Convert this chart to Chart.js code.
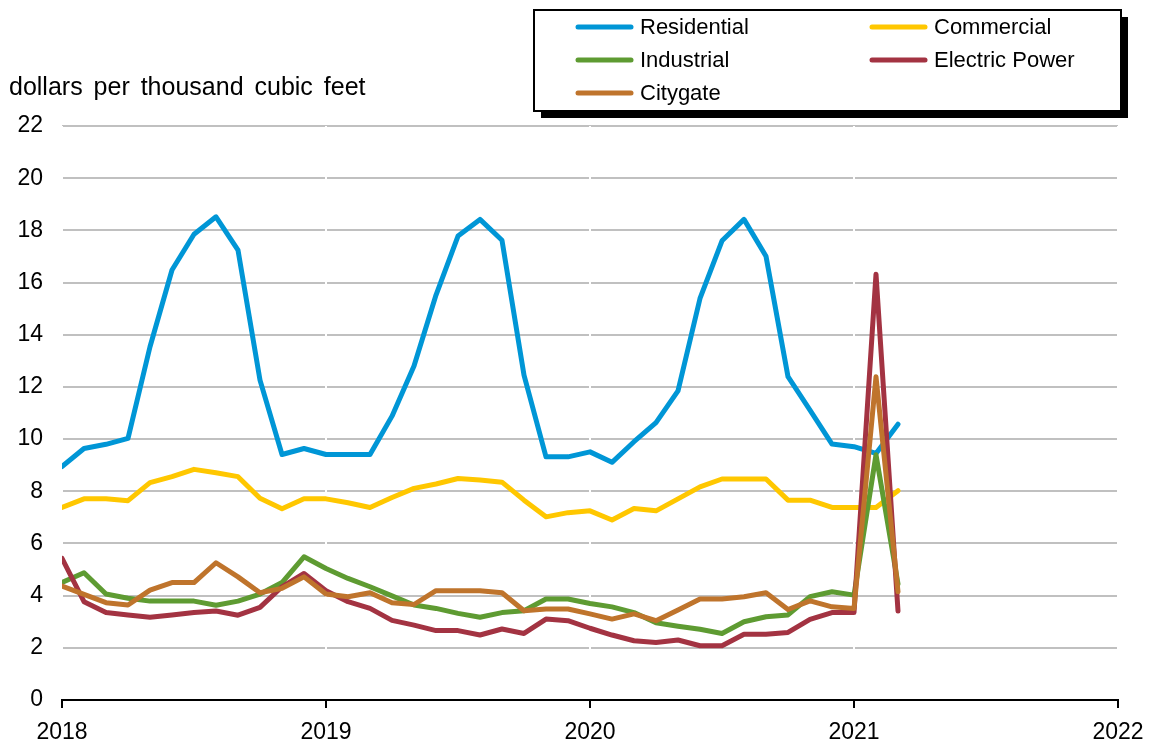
<!DOCTYPE html>
<html>
<head>
<meta charset="utf-8">
<script src="https://cdn.jsdelivr.net/npm/chart.js@4"></script>
<style>
  html, body { margin: 0; padding: 0; background: #fff; }
  #wrap { width: 1150px; height: 742px; }
</style>
</head>
<body>
<div id="wrap"><canvas id="chart" width="1150" height="742"></canvas></div>
<script>
// Monthly prices, Jan 2018 - Mar 2021
const months = [
  "2018-01", "2018-02", "2018-03", "2018-04", "2018-05", "2018-06",
  "2018-07", "2018-08", "2018-09", "2018-10", "2018-11", "2018-12",
  "2019-01", "2019-02", "2019-03", "2019-04", "2019-05", "2019-06",
  "2019-07", "2019-08", "2019-09", "2019-10", "2019-11", "2019-12",
  "2020-01", "2020-02", "2020-03", "2020-04", "2020-05", "2020-06",
  "2020-07", "2020-08", "2020-09", "2020-10", "2020-11", "2020-12",
  "2021-01", "2021-02", "2021-03",
];

const residential = [
  8.95, 9.64, 9.8, 10.03, 13.54, 16.48, 17.85, 18.52, 17.24, 12.26, 9.41, 9.64,
  9.41, 9.41, 9.41, 10.88, 12.8, 15.52, 17.78, 18.42, 17.62, 12.45, 9.32, 9.32,
  9.51, 9.11, 9.9, 10.63, 11.85, 15.39, 17.6, 18.42, 17.01, 12.39, 11.11, 9.81,
  9.71, 9.45, 10.57,
];
const commercial = [
  7.38, 7.71, 7.71, 7.64, 8.33, 8.56, 8.84, 8.71, 8.56, 7.73, 7.33, 7.71,
  7.71, 7.56, 7.38, 7.76, 8.11, 8.28, 8.49, 8.43, 8.35, 7.66, 7.02, 7.18,
  7.25, 6.9, 7.34, 7.25, 7.71, 8.17, 8.47, 8.47, 8.47, 7.66, 7.66, 7.38,
  7.38, 7.38, 8.02,
];
const industrial = [
  4.5, 4.88, 4.06, 3.9, 3.79, 3.79, 3.79, 3.63, 3.79, 4.06, 4.5, 5.49,
  5.04, 4.66, 4.34, 3.99, 3.64, 3.51, 3.32, 3.17, 3.35, 3.42, 3.87, 3.87,
  3.7, 3.57, 3.35, 2.96, 2.83, 2.71, 2.55, 3.0, 3.19, 3.26, 3.96, 4.15,
  4.02, 9.4, 4.45,
];
const electricPower = [
  5.43, 3.77, 3.35, 3.26, 3.17, 3.26, 3.35, 3.41, 3.25, 3.55, 4.34, 4.85,
  4.19, 3.77, 3.51, 3.05, 2.87, 2.66, 2.66, 2.49, 2.72, 2.55, 3.1, 3.04,
  2.75, 2.49, 2.27, 2.2, 2.3, 2.08, 2.08, 2.52, 2.52, 2.59, 3.09, 3.35,
  3.35, 16.32, 3.41,
];
const citygate = [
  4.37, 4.05, 3.73, 3.64, 4.21, 4.5, 4.5, 5.26, 4.72, 4.11, 4.28, 4.72,
  4.06, 3.96, 4.11, 3.73, 3.66, 4.19, 4.19, 4.19, 4.11, 3.42, 3.49, 3.49,
  3.3, 3.1, 3.3, 3.04, 3.45, 3.87, 3.87, 3.96, 4.11, 3.47, 3.8, 3.57,
  3.51, 12.39, 4.15,
];

const yearLabels = ["2018", "2019", "2020", "2021", "2022"];
const yTicks = [0, 2, 4, 6, 8, 10, 12, 14, 16, 18, 20, 22];

const seriesNames = ["Residential", "Commercial", "Industrial", "Electric Power", "Citygate"];
const seriesColors = ["#0096D6", "#FFC700", "#5E9B32", "#A33342", "#BF742C"];
const seriesValues = [residential, commercial, industrial, electricPower, citygate];

// month index since Jan 2018 for the linear x axis
const firstYear = Number(yearLabels[0]);
function monthIndex(m) {
  const [y, mo] = m.split("-").map(Number);
  return (y - firstYear) * 12 + (mo - 1);
}

const FONT = "'Liberation Sans', Arial, sans-serif";

// Legend box with drop shadow + y axis title
const decorations = {
  id: "decorations",
  afterDraw(chart) {
    const ctx = chart.ctx;
    ctx.save();

    // axis title
    ctx.fillStyle = "#000";
    ctx.font = "25px " + FONT;
    ctx.textBaseline = "alphabetic";
    ctx.textAlign = "left";
    ctx.wordSpacing = "4px";
    ctx.fillText("dollars per thousand cubic feet", 9, 95);
    ctx.wordSpacing = "0px";

    // legend box
    const bx = 534, by = 10, bw = 587, bh = 101;
    ctx.fillStyle = "#000";
    ctx.fillRect(bx + 7, by + 7, bw, bh);
    ctx.fillStyle = "#fff";
    ctx.fillRect(bx, by, bw, bh);
    ctx.strokeStyle = "#000";
    ctx.lineWidth = 2;
    ctx.strokeRect(bx, by, bw, bh);

    const cols = [578, 872];
    const rows = [27, 60, 93];
    ctx.font = "22px " + FONT;
    ctx.textBaseline = "middle";
    ctx.lineCap = "round";
    chart.data.datasets.forEach((ds, i) => {
      const x = cols[i % 2];
      const y = rows[Math.floor(i / 2)];
      ctx.strokeStyle = ds.borderColor;
      ctx.lineWidth = 5;
      ctx.beginPath();
      ctx.moveTo(x, y);
      ctx.lineTo(x + 53, y);
      ctx.stroke();
      ctx.fillStyle = "#000";
      ctx.fillText(ds.label, x + 62, y + 1);
    });
    ctx.restore();
  },
};

const datasets = seriesNames.map((name, i) => ({
  label: name,
  data: seriesValues[i].map((v, j) => ({ x: monthIndex(months[j]), y: v })),
  borderColor: seriesColors[i],
  backgroundColor: seriesColors[i],
  borderWidth: 5,
  borderJoinStyle: "round",
  borderCapStyle: "round",
  pointRadius: 0,
  tension: 0,
  fill: false,
  order: seriesNames.length - i, // later series on top
}));

new Chart(document.getElementById("chart").getContext("2d"), {
  type: "line",
  data: { datasets },
  options: {
    responsive: false,
    animation: false,
    events: [],
    layout: { padding: { left: 0, top: 126, right: 32, bottom: 0 } },
    plugins: {
      legend: { display: false },
      tooltip: { enabled: false },
    },
    scales: {
      y: {
        min: yTicks[0],
        max: yTicks[yTicks.length - 1],
        afterFit: (scale) => {
          scale.width = 62;
          scale.paddingTop = 0;
          scale.paddingBottom = 0;
        },
        afterBuildTicks: (scale) => { scale.ticks = yTicks.map((v) => ({ value: v })); },
        grid: { color: "#C0C0C0", lineWidth: 2, drawTicks: false, z: -2 },
        border: { display: false },
        ticks: {
          padding: 19,
          color: "#000",
          font: { family: FONT, size: 23 },
        },
      },
      x: {
        type: "linear",
        min: 0,
        max: (yearLabels.length - 1) * 12,
        afterFit: (scale) => {
          scale.height = 42;
          // keep the plot edges fixed, labels may overhang
          scale.paddingLeft = 0;
          scale.paddingRight = 0;
        },
        afterBuildTicks: (scale) => { scale.ticks = yearLabels.map((_, i) => ({ value: i * 12 })); },
        grid: {
          color: "#fff",
          tickColor: "#000",
          lineWidth: 2,
          drawTicks: true,
          tickLength: 8,
          z: -1,
        },
        border: { display: true, color: "#000", width: 2 },
        ticks: {
          padding: 11,
          color: "#000",
          maxRotation: 0,
          font: { family: FONT, size: 23 },
          callback: (v) => yearLabels[v / 12],
        },
      },
    },
  },
  plugins: [decorations],
});
</script>
</body>
</html>
